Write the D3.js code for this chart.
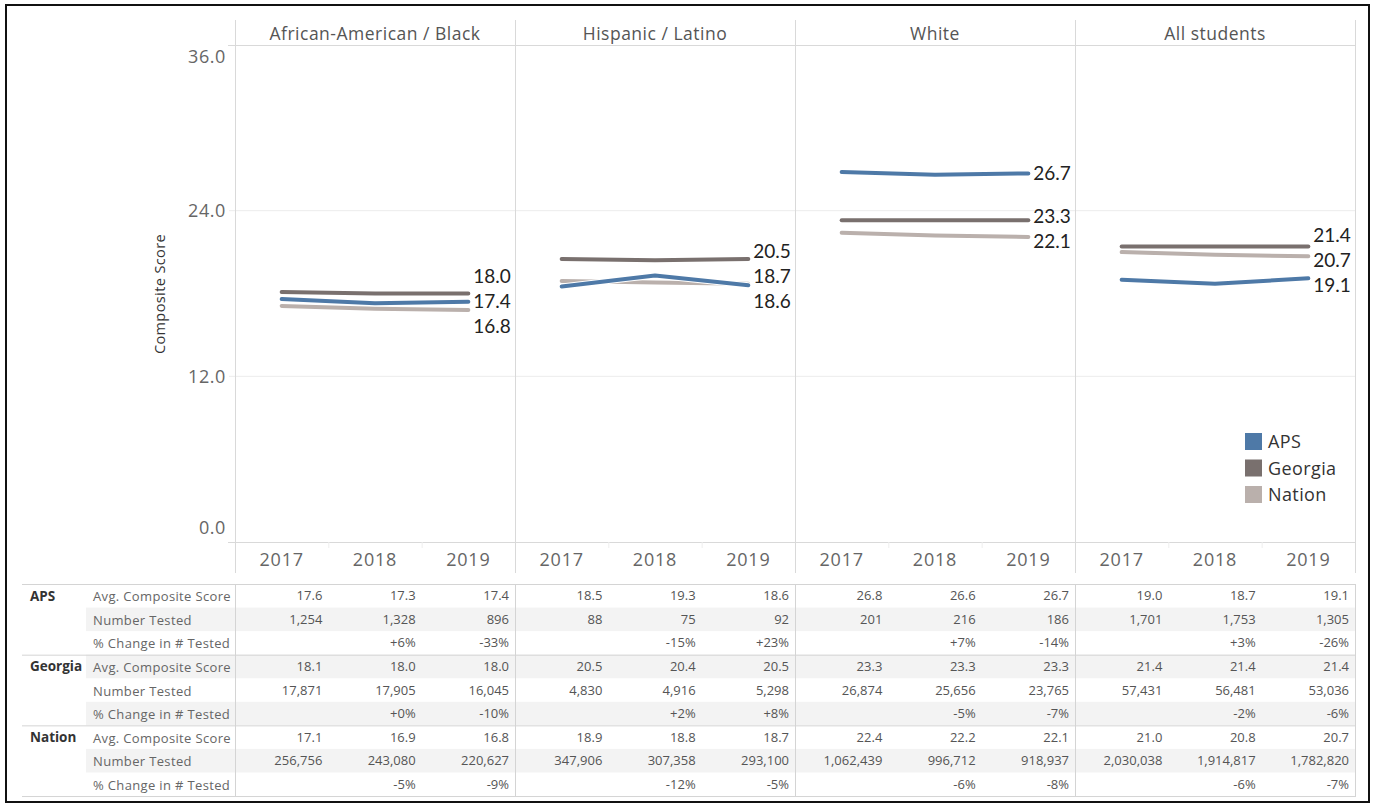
<!DOCTYPE html>
<html>
<head>
<meta charset="utf-8">
<script src="https://cdn.jsdelivr.net/npm/d3@7"></script>
<style>
  body { margin: 0; background: #fff; }
  svg text { font-family: "Open Sans", "Noto Sans", sans-serif; }
</style>
</head>
<body>
<div id="chart"></div>
<script>
// ACT composite scores by race, APS vs Georgia vs Nation

var groups = ["African-American / Black", "Hispanic / Latino", "White", "All students"];
var years = ["2017", "2018", "2019"];
var entities = ["APS", "Georgia", "Nation"];
var measures = ["Avg. Composite Score", "Number Tested", "% Change in # Tested"];
var yTicks = [0, 12, 24, 36];

// one row per group, one value per year
var apsScore = [[17.6, 17.3, 17.4], [18.5, 19.3, 18.6], [26.8, 26.6, 26.7], [19.0, 18.7, 19.1]];
var georgiaScore = [[18.1, 18.0, 18.0], [20.5, 20.4, 20.5], [23.3, 23.3, 23.3], [21.4, 21.4, 21.4]];
var nationScore = [[17.1, 16.9, 16.8], [18.9, 18.8, 18.7], [22.4, 22.2, 22.1], [21.0, 20.8, 20.7]];

var apsTested = [[1254, 1328, 896], [88, 75, 92], [201, 216, 186], [1701, 1753, 1305]];
var georgiaTested = [[17871, 17905, 16045], [4830, 4916, 5298], [26874, 25656, 23765], [57431, 56481, 53036]];
var nationTested = [[256756, 243080, 220627], [347906, 307358, 293100], [1062439, 996712, 918937], [2030038, 1914817, 1782820]];

var apsChange = [["", "+6%", "-33%"], ["", "-15%", "+23%"], ["", "+7%", "-14%"], ["", "+3%", "-26%"]];
var georgiaChange = [["", "+0%", "-10%"], ["", "+2%", "+8%"], ["", "-5%", "-7%"], ["", "-2%", "-6%"]];
var nationChange = [["", "-5%", "-9%"], ["", "-12%", "-5%"], ["", "-6%", "-8%"], ["", "-6%", "-7%"]];

var scores = { "APS": apsScore, "Georgia": georgiaScore, "Nation": nationScore };
var tested = { "APS": apsTested, "Georgia": georgiaTested, "Nation": nationTested };
var changes = { "APS": apsChange, "Georgia": georgiaChange, "Nation": nationChange };

var colors = { "APS": "#4e79a7", "Georgia": "#79706e", "Nation": "#bab0ac" };

var width = 1374, height = 807;
var plotLeft = 235, plotRight = 1355;
var plotTop = 45, plotBottom = 542;
var tableTop = 584, rowH = 23.56;

var svg = d3.select("#chart").append("svg")
    .attr("width", width)
    .attr("height", height);

// outer frame
svg.append("rect")
    .attr("x", 6).attr("y", 5)
    .attr("width", 1363).attr("height", 797)
    .attr("fill", "none")
    .attr("stroke", "#111")
    .attr("stroke-width", 2);

var panelX = d3.scaleBand().domain(groups).range([plotLeft, plotRight]);
var y = d3.scaleLinear().domain([0, 36]).range([plotBottom, plotTop]);

function yearX(gi) {
    return d3.scaleBand().domain(years)
        .range([panelX(groups[gi]), panelX(groups[gi]) + panelX.bandwidth()]);
}

// grid lines
svg.selectAll(".grid")
    .data(yTicks.filter(function (t) { return t > 0 && t < 36; }))
    .enter().append("line")
    .attr("x1", plotLeft - 6).attr("x2", plotRight)
    .attr("y1", function (d) { return y(d); })
    .attr("y2", function (d) { return y(d); })
    .attr("stroke", "#ececec").attr("stroke-width", 1);

// header line and axis line
svg.append("line").attr("x1", plotLeft - 7).attr("x2", plotRight)
    .attr("y1", plotTop + 0.5).attr("y2", plotTop + 0.5)
    .attr("stroke", "#d9d9d9");
svg.append("line").attr("x1", plotLeft - 7).attr("x2", plotRight)
    .attr("y1", plotBottom + 0.5).attr("y2", plotBottom + 0.5)
    .attr("stroke", "#d9d9d9");

// panel dividers
var dividers = groups.map(function (g) { return panelX(g); }).concat([plotRight]);
svg.selectAll(".divider")
    .data(dividers)
    .enter().append("line")
    .attr("x1", function (d) { return d + 0.5; })
    .attr("x2", function (d) { return d + 0.5; })
    .attr("y1", 20).attr("y2", 573)
    .attr("stroke", "#d9d9d9");

// panel headers
svg.selectAll(".header")
    .data(groups)
    .enter().append("text")
    .attr("x", function (d) { return panelX(d) + panelX.bandwidth() / 2; })
    .attr("y", 34)
    .attr("dy", "0.35em")
    .attr("text-anchor", "middle")
    .style("font-size", "17.5px")
    .style("letter-spacing", "0.5px")
    .attr("fill", "#555")
    .text(function (d) { return d; });

// y tick labels (end ticks pulled inside like tableau does)
svg.selectAll(".ytick")
    .data(yTicks)
    .enter().append("text")
    .attr("x", 226)
    .attr("y", function (d) {
        if (d == 36) return y(d) + 12;
        if (d == 0) return y(d) - 14;
        return y(d);
    })
    .attr("dy", "0.35em")
    .attr("text-anchor", "end")
    .style("font-size", "18px")
    .style("letter-spacing", "0.6px")
    .attr("fill", "#666")
    .text(function (d) { return d.toFixed(1); });

svg.append("text")
    .attr("transform", "translate(160," + 294 + ") rotate(-90)")
    .attr("text-anchor", "middle")
    .attr("dy", "0.35em")
    .style("font-size", "14.5px")
    .style("letter-spacing", "0.4px")
    .attr("fill", "#333")
    .text("Composite Score");

// year labels + small separators
groups.forEach(function (g, gi) {
    var xs = yearX(gi);
    svg.selectAll(".yr" + gi)
        .data(years)
        .enter().append("text")
        .attr("x", function (d) { return xs(d) + xs.bandwidth() / 2; })
        .attr("y", 560)
        .attr("dy", "0.35em")
        .attr("text-anchor", "middle")
        .style("font-size", "18px")
        .style("letter-spacing", "0.8px")
        .attr("fill", "#666")
        .text(function (d) { return d; });
    svg.selectAll(".sep" + gi)
        .data(years.slice(1))
        .enter().append("line")
        .attr("x1", function (d) { return xs(d) + 0.5; })
        .attr("x2", function (d) { return xs(d) + 0.5; })
        .attr("y1", plotBottom).attr("y2", plotBottom + 6)
        .attr("stroke", "#eeeeee");
});

// lines
var drawOrder = ["Nation", "Georgia", "APS"];
groups.forEach(function (g, gi) {
    var xs = yearX(gi);
    var line = d3.line()
        .x(function (d, i) { return xs(years[i]) + xs.bandwidth() / 2; })
        .y(function (d) { return y(d); });

    drawOrder.forEach(function (e) {
        var vals = scores[e][gi];
        svg.append("path").datum(vals)
            .attr("d", line)
            .attr("fill", "none")
            .attr("stroke", "#fff")
            .attr("stroke-width", 6)
            .attr("stroke-linecap", "round");
        svg.append("path").datum(vals)
            .attr("d", line)
            .attr("fill", "none")
            .attr("stroke", colors[e])
            .attr("stroke-width", 4)
            .attr("stroke-linecap", "round")
            .attr("stroke-linejoin", "round");
    });

    // end labels, pushed apart so they don't overlap
    var labels = entities.map(function (e) {
        var v = scores[e][gi][2];
        return { v: v, y0: y(v), y: y(v) };
    }).sort(function (a, b) { return a.y0 - b.y0; });

    var gap = 25;
    var clusters = labels.map(function (l) { return [l]; });
    var merged = true;
    while (merged) {
        merged = false;
        for (var i = 0; i < clusters.length; i++) {
            var c = clusters[i];
            var mean = d3.mean(c, function (l) { return l.y0; });
            c.forEach(function (l, k) { l.y = mean + (k - (c.length - 1) / 2) * gap; });
        }
        for (var i = 0; i < clusters.length - 1; i++) {
            var a = clusters[i], b = clusters[i + 1];
            if (b[0].y - a[a.length - 1].y < gap) {
                clusters.splice(i, 2, a.concat(b));
                merged = true;
                break;
            }
        }
    }

    svg.selectAll(".lbl" + gi)
        .data(labels)
        .enter().append("text")
        .attr("x", xs("2019") + xs.bandwidth() / 2 + 5)
        .attr("y", function (d) { return d.y; })
        .attr("dy", "0.35em")
        .style("font-family", "Lato, 'Liberation Sans', sans-serif")
        .style("font-size", "19px")
        .attr("fill", "#222")
        .text(function (d) { return d.v.toFixed(1); });
});

// legend
var legend = svg.selectAll(".legend")
    .data(entities)
    .enter().append("g")
    .attr("transform", function (d, i) { return "translate(1245," + (433 + i * 26.5) + ")"; });
legend.append("rect")
    .attr("width", 17).attr("height", 17)
    .attr("fill", function (d) { return colors[d]; });
legend.append("text")
    .attr("x", 23).attr("y", 9)
    .attr("dy", "0.35em")
    .style("font-size", "18px")
    .style("letter-spacing", "0.4px")
    .attr("fill", "#333")
    .text(function (d) { return d; });

// table
var rows = [];
entities.forEach(function (e, ei) {
    measures.forEach(function (m, mi) {
        rows.push({ entity: e, ei: ei, measure: m, mi: mi, idx: ei * 3 + mi });
    });
});

function cellText(r, gi, yi) {
    if (r.mi == 0) return scores[r.entity][gi][yi].toFixed(1);
    if (r.mi == 1) return d3.format(",")(tested[r.entity][gi][yi]);
    return changes[r.entity][gi][yi];
}

svg.selectAll(".rowbg")
    .data(rows.filter(function (r) { return r.idx % 2 == 1; }))
    .enter().append("rect")
    .attr("x", 86).attr("width", plotRight - 86)
    .attr("y", function (r) { return tableTop + r.idx * rowH; })
    .attr("height", rowH)
    .attr("fill", "#f3f3f3");

// group separator lines
svg.selectAll(".gsep")
    .data([0, 1, 2, 3])
    .enter().append("line")
    .attr("x1", 22).attr("x2", plotRight + 1)
    .attr("y1", function (d) { return tableTop + d * 3 * rowH + 0.5; })
    .attr("y2", function (d) { return tableTop + d * 3 * rowH + 0.5; })
    .attr("stroke", "#d4d4d4");

svg.selectAll(".tdiv")
    .data(dividers)
    .enter().append("line")
    .attr("x1", function (d) { return d + 0.5; })
    .attr("x2", function (d) { return d + 0.5; })
    .attr("y1", tableTop).attr("y2", tableTop + 9 * rowH)
    .attr("stroke", "#d4d4d4");

svg.selectAll(".ent")
    .data(entities)
    .enter().append("text")
    .attr("x", 30)
    .attr("y", function (d, i) { return tableTop + i * 3 * rowH + rowH / 2; })
    .attr("dy", "0.35em")
    .style("font-size", "13.5px")
    .style("font-weight", "bold")
    .attr("fill", "#333")
    .text(function (d) { return d; });

svg.selectAll(".meas")
    .data(rows)
    .enter().append("text")
    .attr("x", 93)
    .attr("y", function (r) { return tableTop + r.idx * rowH + rowH / 2 + 1; })
    .attr("dy", "0.35em")
    .style("font-size", "13px")
    .style("letter-spacing", "0.35px")
    .attr("fill", "#666")
    .text(function (r) { return r.measure; });

groups.forEach(function (g, gi) {
    var xs = yearX(gi);
    years.forEach(function (yr, yi) {
        svg.selectAll(".cell" + gi + "_" + yi)
            .data(rows)
            .enter().append("text")
            .attr("x", xs(yr) + xs.bandwidth() - 6)
            .attr("y", function (r) { return tableTop + r.idx * rowH + rowH / 2; })
            .attr("dy", "0.35em")
            .attr("text-anchor", "end")
            .style("font-size", "13px")
            .attr("fill", "#555")
            .text(function (r) { return cellText(r, gi, yi); });
    });
});
</script>
</body>
</html>
